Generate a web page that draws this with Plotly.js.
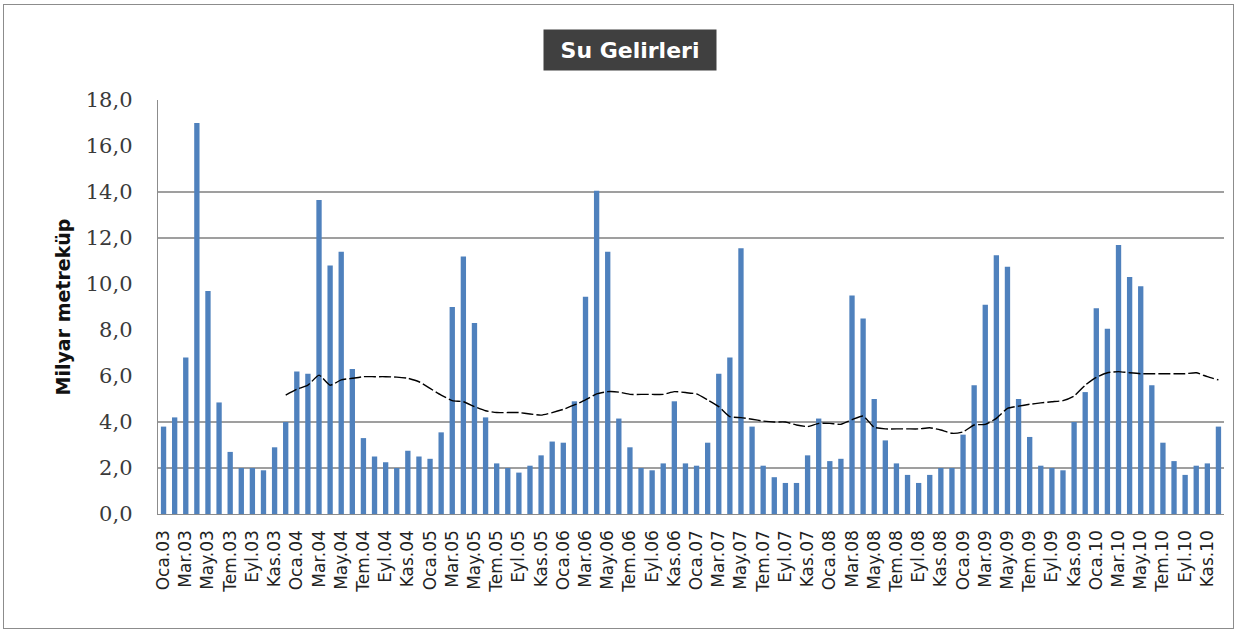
<!DOCTYPE html>
<html>
<head>
<meta charset="utf-8">
<script src="https://cdn.plot.ly/plotly-3.0.1.min.js"></script>
<style>
  html, body { margin: 0; padding: 0; background: #ffffff; }
  #wrap { position: relative; width: 1239px; height: 634px; }
  #chart { width: 1239px; height: 634px; }
  #frame { position: absolute; left: 3px; top: 4px; width: 1229px; height: 623px; border: 1.5px solid #8c8c8c; pointer-events: none; }
</style>
</head>
<body>
<div id="wrap"><div id="chart"></div><div id="frame"></div></div>
<script>
// Month labels (Turkish), years 2003-2010
const monthNames = ["Oca","Şub","Mar","Nis","May","Haz","Tem","Ağu","Eyl","Eki","Kas","Ara"];
const years = ["03","04","05","06","07","08","09","10"];

// Monthly water income, billion m³
const values2003 = [3.8, 4.2, 6.8, 17.0, 9.7, 4.85, 2.7, 2.0, 2.0, 1.9, 2.9, 4.0];
const values2004 = [6.2, 6.1, 13.65, 10.8, 11.4, 6.3, 3.3, 2.5, 2.25, 2.0, 2.75, 2.5];
const values2005 = [2.4, 3.55, 9.0, 11.2, 8.3, 4.2, 2.2, 2.0, 1.8, 2.1, 2.55, 3.15];
const values2006 = [3.1, 4.9, 9.45, 14.05, 11.4, 4.15, 2.9, 2.0, 1.9, 2.2, 4.9, 2.2];
const values2007 = [2.1, 3.1, 6.1, 6.8, 11.55, 3.8, 2.1, 1.6, 1.35, 1.35, 2.55, 4.15];
const values2008 = [2.3, 2.4, 9.5, 8.5, 5.0, 3.2, 2.2, 1.7, 1.35, 1.7, 2.0, 2.0];
const values2009 = [3.45, 5.6, 9.1, 11.25, 10.75, 5.0, 3.35, 2.1, 2.0, 1.9, 4.0, 5.3];
const values2010 = [8.95, 8.05, 11.7, 10.3, 9.9, 5.6, 3.1, 2.3, 1.7, 2.1, 2.2, 3.8];

// 12-month moving average, starting at Ara.03
const movingAvg = [5.17, 5.42, 5.6, 6.04, 5.6, 5.83, 5.9, 5.97, 5.97, 5.97, 5.95, 5.9,
  5.75, 5.46, 5.17, 4.93, 4.88, 4.67, 4.49, 4.41, 4.41, 4.41, 4.35, 4.3,
  4.41, 4.55, 4.74, 4.96, 5.22, 5.32, 5.3, 5.2, 5.2, 5.2, 5.2, 5.32,
  5.28, 5.22, 4.96, 4.67, 4.23, 4.19, 4.12, 4.04, 4.0, 4.0, 3.87, 3.8,
  3.94, 3.94, 3.9, 4.1, 4.26, 3.77, 3.7, 3.7, 3.7, 3.7, 3.75, 3.65,
  3.51, 3.57, 3.87, 3.9, 4.16, 4.59, 4.69, 4.77, 4.83, 4.88, 4.93, 5.13,
  5.6, 5.94, 6.14, 6.19, 6.14, 6.1, 6.1, 6.1, 6.1, 6.1, 6.14, 5.97, 5.83];
const movingAvgStart = 11; // index of Ara.03

const gridLevels = [2, 4, 12, 14];

const categories = [];
years.forEach(y => monthNames.forEach(m => categories.push(m + "." + y)));
const values = [].concat(values2003, values2004, values2005, values2006,
                         values2007, values2008, values2009, values2010);
const tickLabels = categories.filter((c, i) => i % 2 === 0);
const maCats = categories.slice(movingAvgStart, movingAvgStart + movingAvg.length);

const traces = [
  {
    type: "bar", x: categories, y: values,
    marker: { color: "#4f81bd" }, hoverinfo: "x+y", showlegend: false
  },
  {
    type: "scatter", mode: "lines", x: maCats, y: movingAvg,
    line: { color: "#000000", width: 1.4, dash: "12px,3px", shape: "spline", smoothing: 0.5 },
    showlegend: false
  }
];

const shapes = gridLevels.map(v => ({
  type: "line", xref: "paper", yref: "y", x0: 0, x1: 1, y0: v, y1: v,
  line: { color: "#7f7f7f", width: 1.3 }, layer: "below"
}));

const layout = {
  width: 1239, height: 634,
  margin: { l: 158, r: 15, t: 100, b: 120 },
  paper_bgcolor: "#ffffff", plot_bgcolor: "#ffffff",
  separators: ",.",
  bargap: 0.52,
  xaxis: {
    type: "category", tickmode: "array", tickvals: tickLabels, ticktext: tickLabels,
    tickangle: -90, ticks: "", showgrid: false, showline: true, linecolor: "#8c8c8c", linewidth: 1.3,
    tickfont: { family: "DejaVu Sans, Liberation Sans, sans-serif", size: 17, color: "#222222" },
    ticklabelstandoff: 8, automargin: false
  },
  yaxis: {
    range: [0, 18], dtick: 2, tick0: 0, tickformat: ".1f",
    showgrid: false, zeroline: false, showline: true, linecolor: "#8c8c8c", linewidth: 1.3,
    ticks: "", ticklabelstandoff: 20,
    tickfont: { family: "DejaVu Serif, Liberation Serif, serif", size: 21, color: "#3a3a3a" },
    title: { text: "<b>Milyar metreküp</b>", standoff: 10,
             font: { family: "DejaVu Sans, Liberation Sans, sans-serif", size: 19, color: "#111111" } },
    automargin: false
  },
  shapes: shapes,
  annotations: [{
    xref: "paper", yref: "paper", x: 0.443, y: 1.121, xanchor: "center", yanchor: "middle",
    text: "<b>Su Gelirleri</b>", showarrow: false, width: 160, height: 28,
    font: { family: "DejaVu Sans, Liberation Sans, sans-serif", size: 22, color: "#ffffff" },
    bgcolor: "#404040", borderpad: 6
  }]
};

Plotly.newPlot("chart", traces, layout, { displayModeBar: false, staticPlot: true });
</script>
</body>
</html>
